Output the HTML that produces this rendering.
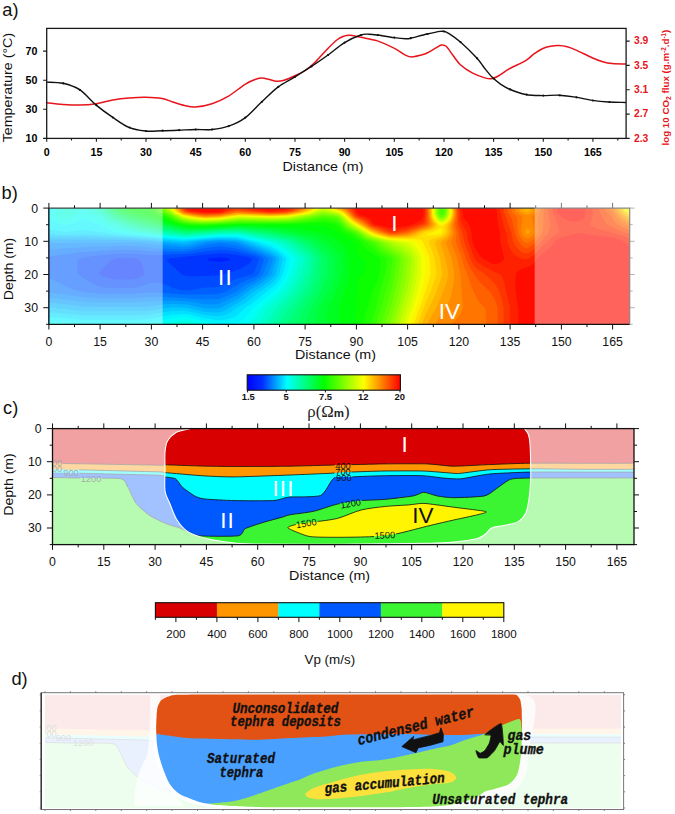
<!DOCTYPE html>
<html><head><meta charset="utf-8"><title>Figure</title>
<style>
html,body{margin:0;padding:0;background:#fff;}
body{width:675px;height:814px;overflow:hidden;font-family:"Liberation Sans",sans-serif;}
svg{display:block;font-family:"Liberation Sans",sans-serif;}
.tb{font-weight:bold;font-size:10.7px;}
.tr{font-size:12.3px;fill:#111;}
.lab{font-size:13.5px;fill:#111;}
.pl{fill:#111;}
.hw{font-family:"Liberation Mono",monospace;font-weight:bold;font-style:italic;fill:#111;}
</style></head><body>
<svg width="675" height="814" viewBox="0 0 675 814">
<rect width="675" height="814" fill="#fff"/>
<g id="pa">
<path d="M46.7 102.7C49.4 103 57.5 104 63 104.4C68.5 104.8 74.1 105.2 79.6 105.1C85.1 105 90.7 104.6 96.2 103.7C101.7 102.8 107.3 100.9 112.8 99.9C118.2 99 123.5 98.4 128.9 98C134.3 97.6 140 97.2 145.5 97.3C151 97.4 157.6 97.7 162.1 98.5C166.6 99.3 168.9 100.8 172.7 102C176.4 103.2 180.8 104.8 184.6 105.6C188.4 106.4 190.8 107.3 195.4 107C200 106.7 206.5 105.5 212 103.7C217.5 101.9 223.1 99.3 228.6 96.1C234.1 92.9 240.4 87.1 245 84.3C249.6 81.5 253.5 80 256.4 79C259.3 78 260.1 78 262.3 78.1C264.5 78.2 267 79 269.4 79.5C271.8 80 273.9 81.1 276.5 81.2C279.1 81.3 281.8 80.9 284.8 80C287.8 79.1 290.9 77.7 294.5 76C298.1 74.3 302.6 72.4 306.1 70C309.6 67.6 312 65.2 315.6 61.7C319.2 58.2 324.1 52.4 327.7 48.7C331.3 45 334.8 41.6 337.5 39.5C340.2 37.4 342.2 36.8 344.1 36.1C346 35.4 347.4 35.3 349 35.2C350.6 35.1 351.7 35.4 353.7 35.7C355.7 36.1 356.9 36.4 360.8 37.3C364.8 38.2 371.9 39.1 377.4 40.9C382.9 42.7 389.2 45.8 394 48.2C398.8 50.6 402.9 53.8 405.9 55.3C408.9 56.8 409.4 57 411.8 57C414.2 57 417.5 56 420.1 55.3C422.7 54.6 424.6 54.2 427.2 53C429.8 51.8 433.1 49.5 435.5 48.2C437.9 46.9 439.6 45.4 441.4 45.1C443.2 44.8 444.1 44.5 446.1 46.3C448.1 48.1 450.9 52.7 453.3 55.8C455.7 58.9 457.2 61.9 460.4 64.8C463.5 67.7 468.2 70.8 472.2 72.9C476.1 75 480.9 76.6 484.1 77.6C487.3 78.6 488.9 79.1 491.3 78.8C493.7 78.5 495.4 77.7 498.4 76C501.4 74.3 504.6 71.5 509.1 68.9C513.7 66.3 521.6 63.1 525.7 60.6C529.9 58.1 531.2 55.9 534 53.9C536.8 51.9 539.5 50 542.3 48.7C545.1 47.4 547.8 46.8 550.6 46.3C553.4 45.8 556.1 45.5 558.9 45.6C561.7 45.7 564.4 46.1 567.2 46.8C570 47.5 571.4 48.1 575.5 49.9C579.6 51.7 587.6 55.7 592.1 57.7C596.6 59.7 599.4 60.7 602.7 61.7C606.1 62.7 608.3 63.2 612.2 63.6C616.1 64 623.7 63.9 626 63.9" fill="none" stroke="#e8141c" stroke-width="1.5"/>
<path d="M46.7 82.1C49.4 82.3 57.5 82 63 83.3C68.5 84.6 74.1 86.1 79.6 89.7C85.1 93.3 90.7 100.5 96.2 105.1C101.7 109.7 107.3 113.7 112.8 117.4C118.2 121.1 123.5 125.1 128.9 127.4C134.3 129.7 140 130.4 145.5 131C151 131.6 156.6 130.8 162.1 130.7C167.6 130.6 173.1 130.4 178.7 130.2C184.2 130 189.8 129.6 195.4 129.5C201 129.4 206.5 130.1 212 129.5C217.5 128.9 223.1 128.1 228.6 126.2C234.1 124.3 239.6 121.9 245 117.9C250.4 113.9 255.8 107.4 261.3 102.3C266.8 97.2 272.4 91.3 277.9 87.1C283.4 82.9 289 80.5 294.5 77.1C300 73.7 305.6 70.3 311.1 66.7C316.6 63.1 322.2 59.3 327.7 55.3C333.2 51.3 338.7 46.2 344.2 42.8C349.7 39.4 356.6 36.4 360.8 35C365 33.6 366.3 34.2 369.1 34.2C371.9 34.2 373.2 34.4 377.4 35C381.5 35.6 389.2 37 394 37.6C398.8 38.2 403.1 38.6 405.9 38.7C408.7 38.8 407.1 39.1 410.6 38.3C414.2 37.5 422.3 35.1 427.2 34C432.1 32.9 437.4 31.8 440.2 31.4C443 31 442.4 31.1 443.8 31.4C445.2 31.7 445.7 31.5 448.5 33.3C451.3 35.1 455.7 37.9 460.4 42C465.1 46.1 472.8 53.7 476.8 58C480.8 62.3 481.6 64.4 484.2 67.7C486.8 71 489.7 74.8 492.5 77.6C495.3 80.4 498 82.4 500.8 84.3C503.6 86.2 505 87.3 509.1 89C513.2 90.7 520.2 93.4 525.7 94.5C531.2 95.6 536.8 95.5 542.3 95.6C547.8 95.7 553.4 95 558.9 95.2C564.4 95.5 570 96.2 575.5 97.1C581 98 586.6 99.6 592.1 100.4C597.6 101.2 603.1 101.7 608.7 102C614.4 102.3 623.1 102.4 626 102.5" fill="none" stroke="#111" stroke-width="1.4"/>
<circle cx="63.3" cy="83.4" r="1.1" fill="#111"/>
<circle cx="79.8" cy="89.9" r="1.1" fill="#111"/>
<circle cx="96.4" cy="105.2" r="1.1" fill="#111"/>
<circle cx="112.9" cy="117.5" r="1.1" fill="#111"/>
<circle cx="129.5" cy="127.5" r="1.1" fill="#111"/>
<circle cx="146.0" cy="131.0" r="1.1" fill="#111"/>
<circle cx="162.6" cy="130.7" r="1.1" fill="#111"/>
<circle cx="179.1" cy="130.2" r="1.1" fill="#111"/>
<circle cx="195.7" cy="129.5" r="1.1" fill="#111"/>
<circle cx="212.2" cy="129.5" r="1.1" fill="#111"/>
<circle cx="228.8" cy="126.1" r="1.1" fill="#111"/>
<circle cx="245.3" cy="117.6" r="1.1" fill="#111"/>
<circle cx="261.9" cy="101.8" r="1.1" fill="#111"/>
<circle cx="278.4" cy="86.8" r="1.1" fill="#111"/>
<circle cx="295.0" cy="76.8" r="1.1" fill="#111"/>
<circle cx="311.5" cy="66.4" r="1.1" fill="#111"/>
<circle cx="328.1" cy="55.0" r="1.1" fill="#111"/>
<circle cx="344.6" cy="42.6" r="1.1" fill="#111"/>
<circle cx="361.2" cy="35.0" r="1.1" fill="#111"/>
<circle cx="377.8" cy="35.1" r="1.1" fill="#111"/>
<circle cx="394.3" cy="37.6" r="1.1" fill="#111"/>
<circle cx="410.9" cy="38.2" r="1.1" fill="#111"/>
<circle cx="427.4" cy="34.0" r="1.1" fill="#111"/>
<circle cx="444.0" cy="31.5" r="1.1" fill="#111"/>
<circle cx="460.5" cy="42.1" r="1.1" fill="#111"/>
<circle cx="477.1" cy="58.3" r="1.1" fill="#111"/>
<circle cx="493.6" cy="78.5" r="1.1" fill="#111"/>
<circle cx="510.2" cy="89.4" r="1.1" fill="#111"/>
<circle cx="526.7" cy="94.6" r="1.1" fill="#111"/>
<circle cx="543.3" cy="95.6" r="1.1" fill="#111"/>
<circle cx="559.8" cy="95.3" r="1.1" fill="#111"/>
<circle cx="576.4" cy="97.3" r="1.1" fill="#111"/>
<circle cx="592.9" cy="100.5" r="1.1" fill="#111"/>
<circle cx="609.5" cy="102.0" r="1.1" fill="#111"/>
<rect x="46.7" y="28.4" width="579.4" height="110.0" fill="none" stroke="#1a1a1a" stroke-width="1.3"/>
<text x="37.4" y="141.9" text-anchor="end" class="tb">10</text>
<text x="37.4" y="112.8" text-anchor="end" class="tb">30</text>
<text x="37.4" y="83.7" text-anchor="end" class="tb">50</text>
<text x="37.4" y="54.6" text-anchor="end" class="tb">70</text>
<text x="634" y="141.7" class="tb" style="font-size:10.3px" fill="#e8141c">2.3</text>
<text x="634" y="117.4" class="tb" style="font-size:10.3px" fill="#e8141c">2.7</text>
<text x="634" y="93.1" class="tb" style="font-size:10.3px" fill="#e8141c">3.1</text>
<text x="634" y="68.7" class="tb" style="font-size:10.3px" fill="#e8141c">3.5</text>
<text x="634" y="44.4" class="tb" style="font-size:10.3px" fill="#e8141c">3.9</text>
<text x="46.7" y="155.8" text-anchor="middle" class="tb">0</text>
<text x="96.4" y="155.8" text-anchor="middle" class="tb">15</text>
<text x="146.0" y="155.8" text-anchor="middle" class="tb">30</text>
<text x="195.7" y="155.8" text-anchor="middle" class="tb">45</text>
<text x="245.3" y="155.8" text-anchor="middle" class="tb">60</text>
<text x="295.0" y="155.8" text-anchor="middle" class="tb">75</text>
<text x="344.6" y="155.8" text-anchor="middle" class="tb">90</text>
<text x="394.3" y="155.8" text-anchor="middle" class="tb">105</text>
<text x="444.0" y="155.8" text-anchor="middle" class="tb">120</text>
<text x="493.6" y="155.8" text-anchor="middle" class="tb">135</text>
<text x="543.3" y="155.8" text-anchor="middle" class="tb">150</text>
<text x="592.9" y="155.8" text-anchor="middle" class="tb">165</text>
<path d="M46.7 138.4h-3.6M46.7 109.3h-3.6M46.7 80.2h-3.6M46.7 51.1h-3.6M626.1 138.4h3.6M626.1 114.1h3.6M626.1 89.8h3.6M626.1 65.4h3.6M626.1 41.1h3.6M46.7 138.4v3.4M71.5 138.4v2.2M96.4 138.4v3.4M121.2 138.4v2.2M146.0 138.4v3.4M170.8 138.4v2.2M195.7 138.4v3.4M220.5 138.4v2.2M245.3 138.4v3.4M270.2 138.4v2.2M295.0 138.4v3.4M319.8 138.4v2.2M344.6 138.4v3.4M369.5 138.4v2.2M394.3 138.4v3.4M419.1 138.4v2.2M444.0 138.4v3.4M468.8 138.4v2.2M493.6 138.4v3.4M518.4 138.4v2.2M543.3 138.4v3.4M568.1 138.4v2.2M592.9 138.4v3.4M617.8 138.4v2.2" stroke="#1a1a1a" stroke-width="1.1" fill="none"/>
<text x="322.9" y="171.4" text-anchor="middle" class="lab" font-size="12.5" textLength="81" lengthAdjust="spacingAndGlyphs">Distance (m)</text>
<text transform="translate(12.3,87.6) rotate(-90)" text-anchor="middle" class="lab" textLength="109.5" lengthAdjust="spacingAndGlyphs">Temperature (°C)</text>
<text transform="translate(669.3,87.6) rotate(-90)" text-anchor="middle" class="tb" fill="#e8141c" style="font-size:9.75px">log 10 CO<tspan style="font-size:6.8px" dy="2">2</tspan><tspan dy="-2"> flux (g.m</tspan><tspan style="font-size:6.3px" dy="-3">-2</tspan><tspan dy="3">.d</tspan><tspan style="font-size:6.3px" dy="-3">-1</tspan><tspan dy="3">)</tspan></text>
<text x="2.3" y="15.8" class="pl" font-size="18.3">a)</text>
</g>
<g id="pb">
<g fill-rule="evenodd" shape-rendering="geometricPrecision">
<rect x="48.9" y="208.1" width="580.8" height="116.2" fill="rgb(0,11,255)"/>
<path fill="rgb(0,32,255)" d="M48.9 208.1L629.7 208.1L629.7 324.3L48.9 324.3Z"/>
<path fill="rgb(0,53,255)" d="M48.9 208.1L629.7 208.1L629.7 324.3L48.9 324.3ZM207.5 260.2L215.1 261.6L221.1 261.7L229 260.2L230.2 258.2L219.1 257.5L208.4 258.2Z"/>
<path fill="rgb(0,74,255)" d="M48.9 208.1L629.7 208.1L629.7 324.3L48.9 324.3ZM166.4 260.2L181.5 274.2L185.1 275.7L189.1 276.3L215.1 275.8L221.1 275.1L235.2 270.8L241.6 268.2L249.2 263.6L252 260.2L251.3 258.2L243.8 256.2L233.2 254.3L219.1 253.3L169.8 258.2ZM99.4 274.2L103 276.5L113 278.9L119 279.6L131 279.6L137 278.4L141.7 276.2L144.2 274.2L144.5 272.2L142.1 264.2L140 260.2L134.4 258.2L119 258.1L115 258.7L110.7 260.2L101 270.2L99.6 272.2Z"/>
<path fill="rgb(0,96,255)" d="M48.9 208.1L629.7 208.1L629.7 324.3L48.9 324.3ZM258.7 260.2L258.4 258.2L253.2 255.7L235.2 251.3L221.1 249.8L207.1 250.9L189.1 253.7L153 255.3L133 253.7L115 253.8L91.2 256.2L80.1 258.2L77.5 260.2L77.4 272.2L78.1 274.2L89 281.7L95 285.1L101 287.2L115 288.2L133 288.1L139 286.9L151 282.7L155 282.6L165.1 284.6L174.1 288.2L180.6 290.2L187.1 290.6L191.2 290.2L203.1 287.7L215.1 287.3L219.1 286.7L235.2 279.3L252.4 274.2L254.2 272.2Z"/>
<path fill="rgb(0,117,255)" d="M48.9 208.1L629.7 208.1L629.7 324.3L48.9 324.3L48.9 278.5L52.9 280L70.1 288.2L75.5 290.2L85.4 292.2L97 293.6L133 294L151 292.3L185.1 294.6L217.1 294.3L224.4 292.2L228.6 290.2L241.7 282.2L256.3 276.2L258.7 274.2L259.7 272.2L263.7 260.2L263.5 258.2L260.5 256.2L255.2 254L235.2 248.2L221.1 246.2L205.1 248L185.1 251.7L155 251.6L133 249.8L117 249.8L78.9 252.6L48.9 256.5Z"/>
<path fill="rgb(0,138,255)" d="M48.9 208.1L629.7 208.1L629.7 324.3L48.9 324.3L48.9 292.3L82.9 297L99 298.2L133 298.3L151 297.1L165.1 296.9L203.1 299.3L217.1 299.2L221.1 298.3L235.2 292.3L245.2 285L255.2 280.3L261.2 276.3L263.2 274.2L268.5 260.2L268.4 258.2L265.6 256.2L255.2 251.8L235.2 245L221.1 243.1L207.1 244.4L191.1 248.4L183.1 249.4L159.1 248.4L135 246.1L123 245.9L84.9 247.1L48.9 249.5Z"/>
<path fill="rgb(0,159,255)" d="M48.9 208.1L629.7 208.1L629.7 324.3L48.9 324.3L48.9 297.4L80.9 301.6L95 302.5L135 302.6L171.1 300.5L187.1 301.3L205.1 304.2L215.1 304.3L219.1 303.8L237.2 295.3L247.2 287.9L257.6 282.2L265.2 276.8L267.7 274.2L268.7 272.2L272.6 260.2L272.5 258.2L271.2 256.9L266.4 254.2L239.2 243.5L235.2 242.3L219.1 241.3L206 242.2L189.1 246.4L183.1 247L133 242.5L48.9 243Z"/>
<path fill="rgb(0,181,255)" d="M48.9 208.1L629.7 208.1L629.7 324.3L48.9 324.3L48.9 302.3L84.9 306.8L147 306.8L165.1 304.3L173.1 303.9L187.1 304.6L205.1 308.5L219.1 308.4L223.1 306.8L239.2 298.2L249.5 290.2L261.2 283.5L267.2 279.1L271.8 274.2L276 260.2L276 258.2L274.2 256.2L267.2 252.2L241.7 242.2L233.2 240.5L219.1 240L207.1 240.8L197.1 242L187.1 244.4L183.1 244.7L153 241.6L133 240.3L87 239.5L48.9 239.4Z"/>
<path fill="rgb(0,202,255)" d="M48.9 208.1L629.7 208.1L629.7 324.3L48.9 324.3L48.9 307.3L80.9 311L91 311.3L147 311L153 310.5L167.1 307.7L181.1 307.3L187.1 307.9L205.1 311.9L217.1 312.5L221.1 311.9L225.1 310.3L242.5 300.3L253.2 291.8L263.2 285.8L269.2 281.6L273.2 277.6L275.6 274.2L279.3 260.2L279.3 258.2L277.8 256.2L269.2 250.8L247.2 242.2L240.3 240.2L235.2 239.4L215.1 239.2L201.1 240.2L183.1 242.6L133 238.7L84.9 237L64.9 237.3L48.9 236.9Z"/>
<path fill="rgb(0,223,255)" d="M48.9 208.1L629.7 208.1L629.7 324.3L48.9 324.3L48.9 312.2L84.9 315.6L131 315.6L149 314.8L169.1 311.2L183.1 310.6L187.1 311L205.1 315.1L217.1 316.2L223.1 315.6L230.8 312.3L236.2 308.3L246.3 302.3L258.9 292.2L271.2 284.1L275.2 280L279.2 274.2L282.6 260.2L282.6 258.2L281.2 256.2L277.2 253L271.2 249.5L252.6 242.2L237.2 238.4L217.1 238.1L183.1 241.1L137 237.5L87 234.5L64.9 235L48.9 234.3Z"/>
<path fill="rgb(0,244,255)" d="M48.9 208.1L629.7 208.1L629.7 324.3L48.9 324.3L48.9 317.1L64.9 317.9L84.9 319.9L133 319.9L151 318.5L169.1 315L183.1 313.9L189.1 314.6L203.1 318L217.1 319.9L223.1 319.9L229.1 318.8L233.2 317.4L237.2 315.2L244.8 308.3L253.2 302.5L275.2 285L279.2 280.2L282.8 274.2L286.1 260.2L286.1 258.2L282.6 254.2L277.2 250.3L271.2 247.1L258.3 242.2L237.2 237.2L219.1 237.1L183.1 239.8L111.9 234.1L84.9 229.9L80.9 229.9L68.9 231.8L64.9 232L48.9 229.5Z"/>
<path fill="rgb(0,255,244)" d="M48.9 208.1L629.7 208.1L629.7 324.3L235.5 324.3L237.2 323.7L243.2 319.2L253.4 308.3L275.2 290L280.6 284.2L284.5 278.2L287.1 272.2L290.1 260.2L290.1 258.2L286.4 254.2L279.2 248.7L273.2 245.6L264.2 242.2L237.2 236.1L219.1 236.2L183.1 238.8L127 233.6L116.3 232.1L109.8 230.1L99 224.8L84.9 219.1L82.9 219.1L72.9 223.5L66.9 224.6L62.9 224.4L55 222.1L48.9 218.2ZM137.9 324.3L151 322.4L171.1 318.4L183.1 317.1L189.1 317.8L218.3 324.3ZM48.9 322L64.9 322.3L79.6 324.3L48.9 324.3Z"/>
<path fill="rgb(0,255,223)" d="M56 208.1L629.7 208.1L629.7 324.3L249.1 324.3L255.2 316.8L260.9 308.3L274.6 296.3L282.4 288.2L286.5 282.2L290.8 274.2L294.9 260.2L294.9 258.2L290.8 254.2L281.2 247L275.7 244.2L267.2 241.3L237.2 235L219.1 235.3L185.1 237.8L145.8 234.1L130.2 232.1L122 230.1L114 226.1L107 223.4L103 221L97 216.1L91 213.9L82.9 210L80.9 210.3L74.3 216.1L70.9 218.3L66.9 219.5L62.9 219L60.7 218.1L58 216.1L56.2 212.1ZM162.7 324.3L173.1 321.8L185.1 320.4L191.1 321.4L200.6 324.3Z"/>
<path fill="rgb(0,255,202)" d="M64.7 212.1L64 208.1L70.2 208.1L68.1 212.1L66.9 212.7ZM91 208.1L629.7 208.1L629.7 324.3L258.1 324.3L268 308.3L279.2 297.9L286.3 290.2L291.5 282.2L295.8 274.2L299.9 260.2L299.9 258.2L298.3 256.2L287.2 247.7L281.6 244.2L276.7 242.2L265.2 239.3L239.2 234.1L221.1 234.2L185.1 236.8L151 233.3L135 230.9L127 228.7L117.2 224.1L109 221.2L101 214.8L93.1 210.1ZM181.1 324.3L185.1 323.9L187.9 324.3Z"/>
<path fill="rgb(0,255,181)" d="M97.6 208.1L629.7 208.1L629.7 324.3L265.3 324.3L275.1 308.3L285.3 298.3L292.1 290.2L298 280.2L301.5 272.2L304.8 260.2L304.8 258.2L301.2 254.5L289.2 245.5L283.3 242.2L276.1 240.2L239.2 233.1L221.1 233.3L185.1 235.9L153.2 232.1L141.2 230.1L131 227.5L112 220.1L107 216.8Z"/>
<path fill="rgb(0,255,159)" d="M101.8 208.1L629.7 208.1L629.7 324.3L272.4 324.3L282.2 308.3L291.7 298.3L298 290.2L303.3 280.2L306.5 272.2L308.8 262.2L309.1 258.2L305.3 253.8L292.6 244.2L289.4 242.2L283.2 240.1L239.2 232L223.1 232.3L185.1 234.9L149 229.8L135 226.6L115 219.4L111 217.2L107.1 214.1Z"/>
<path fill="rgb(0,255,138)" d="M104.9 208.1L629.7 208.1L629.7 324.3L279.5 324.3L289.3 308.3L298.1 298.3L303.9 290.2L308.7 280.2L311.3 273.1L313 262.2L313.1 258.2L312 256.2L308.1 252.2L297.2 243.8L291.2 240.7L285.2 238.9L265.2 235.1L241.2 231.3L229.1 231.1L185.1 233.9L155 229.2L137 225.1L117 218.3L110.2 214.1L107 211.1Z"/>
<path fill="rgb(0,255,117)" d="M107.7 208.1L629.7 208.1L629.7 324.3L286.8 324.3L296.4 308.3L308.6 292.2L312.4 284.2L316.1 274.2L317.2 258.2L315.3 255L311.3 250.7L299.9 242.2L293.2 239.4L283.2 237L263.2 233.4L239.2 230.2L223.1 230.6L189.1 232.8L179.1 232.1L151 226.7L129 220.8L119 217.3L115 215.2L110.8 212.1Z"/>
<path fill="rgb(0,255,96)" d="M110.5 208.1L629.7 208.1L629.7 324.3L295.1 324.3L303.6 308.3L314.6 292.2L318 284.2L321.3 274.2L321.6 258.2L320.6 256.2L315.7 250.2L307.3 243.3L299.2 239.4L289.2 236.6L267.2 232.6L243.2 229.6L231.2 229.3L189.1 231.8L181.1 231.2L156.3 226.1L131 219.7L117 214.2L113 211.2Z"/>
<path fill="rgb(0,255,74)" d="M113.3 208.1L629.7 208.1L629.7 324.3L304.1 324.3L307.9 316.3L310.8 308.3L321.7 290.2L327.8 274.2L327.6 258.2L319.1 248.2L312 242.2L302.1 238.2L291.2 235.3L269.2 231.3L247.2 228.9L235.2 228.3L199.1 230.4L187.1 230.6L182.4 230.1L159.1 225L131.5 218.1L119 213L115 210.2Z"/>
<path fill="rgb(0,255,53)" d="M116.6 208.1L629.7 208.1L629.7 324.3L315.2 324.3L318.1 308.3L327.6 292.2L334.3 276.2L335 272.2L334.7 258.2L333.7 256.2L328.2 250.2L317.3 241.1L310.5 238.2L297.2 234.7L277.2 230.7L263.2 229.1L237.2 227.4L201.1 229.4L189.1 229.5L183.1 229L133 216.7L122.3 212.1L118.7 210.1Z"/>
<path fill="rgb(0,255,32)" d="M121.3 208.1L629.7 208.1L629.7 324.3L327 324.3L327.3 308.3L332.7 298.3L341.5 276.2L342.1 272.2L342.1 260.2L341.2 256.2L337 250.2L330.9 244.2L324.8 240.2L319.3 237.5L313.3 235.6L289.2 230.6L273.2 228.4L239.2 226.6L201.1 228.4L189.1 228.4L183.1 227.8L173.1 225.4L151 218.7L135 215L128.2 212.1Z"/>
<path fill="rgb(0,255,11)" d="M128.1 208.1L629.7 208.1L629.7 324.3L339.2 324.3L339.3 308.3L347.1 284.2L349 276.2L349.2 258.2L347.3 251.9L344 246.2L340 242.2L333.8 238.2L327.3 235L319.3 232.4L297.2 228.7L285.2 227.4L239.2 225.7L203.1 227.4L185.1 226.9L175.1 224.7L147 215L135.5 212.1L131.1 210.1Z"/>
<path fill="rgb(11,255,0)" d="M146.2 208.1L629.7 208.1L629.7 324.3L355.3 324.3L356 306.3L357.5 286.2L359.3 277.7L361.3 274.4L363.3 272.5L364.6 272.2L365.1 270.2L365.2 262.2L363.5 260.2L361.3 259.4L358.7 256.2L357.3 253.3L355.3 244.2L354.2 242.2L343.3 236.6L335.3 231.2L325.3 226.6L319.3 225.7L239.2 224.8L203.1 226.5L185.1 225.8L175.1 223.4L156.4 216.1L149.8 212.1L147 208.5Z"/>
<path fill="rgb(32,255,0)" d="M152.5 208.1L629.7 208.1L629.7 324.3L363.6 324.3L365.3 315.8L372.3 292.2L377.4 280.1L379.3 274.2L380.3 260.2L379.8 258.2L377.4 256.2L367.3 250.2L365.3 248.5L360.9 242.2L353.3 237.1L343.3 232L341 230.1L337.3 225.9L333.3 224.1L321.3 222.6L287.2 224.2L239.2 224L203.1 225.7L187.1 225L175.1 222.2L167.1 218.2L157 214.2L154.3 212.1Z"/>
<path fill="rgb(53,255,0)" d="M154.9 208.1L629.7 208.1L629.7 324.3L370.6 324.3L375.9 308.3L379.9 290.2L385.2 274.2L387.1 260.2L386.5 258.2L377.6 252.2L366 242.2L359.3 238.5L353.5 234.1L344.5 230.1L339.3 224.3L337.3 222.9L333.3 221.6L323.3 220.3L303.3 222.5L289.2 223.3L239.2 223.2L203.1 224.9L189.1 224.3L181.1 223L175.1 221L167.1 216.6L159.1 213.3L157 211.8Z"/>
<path fill="rgb(74,255,0)" d="M156.9 208.1L629.7 208.1L629.7 324.3L376.1 324.3L390.1 276.2L392.4 260.2L392 258.2L389.6 256.2L381.4 251.2L373.8 244.2L370.9 242.2L363.3 239.1L356.7 234.1L347.8 230.1L345.3 228.5L341.3 224L337.3 220.7L333.3 219.4L323.3 218.1L307.3 220.8L289.2 222.4L239.2 222.4L205.1 224.2L191.1 223.6L183.1 222.6L175.8 220.1L168.8 216.1L160.2 212.1L158 210.1ZM441.4 209.7L441 212.1L441.4 213.1L442.6 212.1Z"/>
<path fill="rgb(96,255,0)" d="M158.8 208.1L439.9 208.1L439.2 212.1L440 214.1L441.4 215.5L443.4 214.8L444.4 212.1L443.7 208.1L629.7 208.1L629.7 324.3L380.7 324.3L386.8 306.3L394.1 278.2L396.4 262.2L396.3 258.2L393.4 255.5L383.4 249.3L375 242.2L365.3 238.7L355.8 232.1L347.3 228.2L337.3 218.7L333.3 217.5L323.3 216.3L305.3 219.8L289.2 221.6L271.2 222L239.2 221.6L217.1 223.2L197.1 223.4L187.1 222.5L179.1 220.5L163 212.1L160.2 210.1Z"/>
<path fill="rgb(117,255,0)" d="M160.7 208.1L438.7 208.1L438.3 212.1L439.4 215.6L441.4 216.9L443.4 216.5L445.1 214.1L445.6 212.1L444.9 208.1L629.7 208.1L629.7 324.3L385.2 324.3L391.3 306.3L398.1 278.2L400.3 262.2L400.3 258.2L397.4 255.2L386.2 248.2L378.5 242.2L365.3 237.4L357.9 232.1L349.3 228.1L345.3 224.8L339.3 218.3L337.3 217.1L333.7 216.1L323.3 215L301.2 219.4L289.2 220.8L271.2 221.3L239.2 220.8L219.1 222.5L199.1 222.9L187.1 221.8L180.6 220.1L165.5 212.1L162.4 210.1Z"/>
<path fill="rgb(138,255,0)" d="M162.5 208.1L437.7 208.1L437.4 212.1L437.8 214.1L439.4 217L441.4 218L443.4 217.6L445.4 215.6L446.4 212.1L445.9 208.1L629.7 208.1L629.7 324.3L389.4 324.3L395.1 306.3L402 278.2L403.6 268.2L404.3 258.2L402.8 256.2L399.4 253.4L381.8 242.2L367.3 237.3L359.3 231.9L349.3 226.7L345.3 223.2L340.8 218.1L338 216.1L323.3 213.8L299.2 218.7L287.2 220.2L271.2 220.6L239.2 220L219.1 222L201.1 222.4L187.1 221L181.1 219.4L170.7 214.1L164.5 210.1Z"/>
<path fill="rgb(159,255,0)" d="M164.3 208.1L436.9 208.1L436.6 212.1L437.4 215.6L439.4 218.2L441.4 218.9L443.4 218.6L446.1 216.1L447.3 212.1L446.7 208.1L629.7 208.1L629.7 324.3L393 324.3L398.1 308.3L403.7 288.2L406.7 274.2L408 258.2L404.9 254.2L397.4 248.9L385.1 242.2L367.3 236.2L359.3 231L351.3 226.8L347.3 223.8L339.3 215.7L335.3 214.5L323.3 212.7L303.3 217.1L287.2 219.4L271.2 220L239.2 219.3L219.1 221.4L201.1 221.8L189.1 220.6L181.1 218.5L172.2 214.1Z"/>
<path fill="rgb(181,255,0)" d="M166 208.1L436.1 208.1L435.9 212.1L436.8 216.1L439.4 219.2L441.4 219.9L443.4 219.6L445.4 218.3L447 216.1L448 212.1L447.5 208.1L629.7 208.1L629.7 324.3L396.4 324.3L406.5 292.2L409.7 278.2L411.6 260.2L411.4 258.2L410.5 256.2L405.4 250.6L398.3 246.2L388.8 242.2L373.3 237.7L367.3 235.2L351.3 225.6L346.9 222.1L341.4 216.1L339.3 214.9L335.3 213.7L323.3 211.5L309.3 215.2L287.2 218.7L271.2 219.3L239.2 218.5L219.1 220.8L201.1 221.2L189.1 219.9L181.1 217.7L173.6 214.1Z"/>
<path fill="rgb(202,255,0)" d="M167.6 208.1L435.4 208.1L435.1 212.1L436 216.1L437.4 218.5L439.4 220.1L441.4 220.8L443.4 220.5L445.4 219.3L447.9 216.1L448.8 212.1L448.2 208.1L629.7 208.1L629.7 324.3L399.6 324.3L405.9 306.3L410.7 290.2L414 274.2L414.9 260.2L414 256.2L411.3 252.2L407.4 248.1L401.4 244.4L371.2 236.1L351.3 224.5L347.3 221.3L342.6 216.1L339.5 214.1L325.3 210.6L321.3 210.5L309.3 214.5L287.2 218L271.2 218.6L239.2 217.8L221.1 220.1L203.1 220.7L191.1 219.5L183.1 217.7L174.9 214.1L171.9 212.1Z"/>
<path fill="rgb(223,255,0)" d="M169.1 208.1L434.7 208.1L434.4 212.1L435.4 216.7L437.4 219.6L439.4 221.1L441.4 221.7L443.4 221.4L445.4 220.4L447.6 218.1L449.3 214.1L449 208.1L629.7 208.1L629.7 324.3L402.9 324.3L408.8 308.3L413.8 292.2L417.7 272.2L418.2 260.2L417.4 256.2L412.1 248.2L407.4 244L402.5 242.2L385.4 239.5L371.3 235.4L351.3 223.5L341.1 214.1L337.3 212.5L323.3 208.7L321.3 208.9L314.8 212.1L309.3 213.8L289.2 217.2L271.2 218L239.2 217.1L221.1 219.6L205.1 220.2L193.1 219.2L183.1 217.1L175.1 213.4Z"/>
<path fill="rgb(244,255,0)" d="M170.4 208.1L319.3 208.1L313.3 211.7L309.3 213.1L301.2 214.8L287.2 216.8L271.2 217.4L239.2 216.4L221.1 219L205.1 219.7L193.1 218.6L183.1 216.4L175.1 212.7ZM326.1 208.1L433.9 208.1L434 214.1L435.3 218.1L437.4 220.8L441.4 222.7L443.4 222.4L445.4 221.4L448.5 218.1L450.1 214.1L449.7 208.1L627.8 208.1L629.7 209.8L629.7 324.3L406.2 324.3L412.4 308.3L417.4 292.2L421.2 274.2L421.4 258.2L420 254.2L416.6 248.2L413.3 244.2L410.2 242.2L387.4 239.2L377.4 236.7L371.3 234.5L351.3 222.5L341.3 213.4Z"/>
<path fill="rgb(255,244,0)" d="M171.7 208.1L316.9 208.1L314.3 210.1L309.3 212.4L301.2 214.2L289.2 216L271.2 216.9L239.2 215.8L221.1 218.5L205.1 219.1L193.1 217.9L183.1 215.8L175.4 212.1ZM329 208.1L433.2 208.1L433.2 214.1L434.5 218.1L437.4 221.9L439.4 223.3L441.4 223.8L443.4 223.5L445.4 222.5L449.4 218.1L451 212.1L450.4 208.1L625.4 208.1L626.9 210.1L629.7 212L629.7 324.3L409.8 324.3L415.9 308.3L421 292.2L425.2 274.2L425.1 258.2L422.1 250.2L418.5 244.2L416.5 242.2L411.4 240.6L389.4 238.9L373.3 234.6L353.3 222.9L349.3 219.8L343.7 214.1L341.3 212.6Z"/>
<path fill="rgb(255,223,0)" d="M172.9 208.1L314.8 208.1L312.2 210.1L307.7 212.1L298.8 214.1L289.2 215.5L271.2 216.3L239.2 215.3L219.1 218.1L205.1 218.6L193.1 217.3L183.1 215.2L176.5 212.1ZM331.5 208.1L432.5 208.1L432.5 214.1L433.6 218.1L437.4 223.2L439.4 225.1L441.4 226L443.4 225.3L447.4 222L450.3 218.1L451.7 212.1L451.1 208.1L623.3 208.1L625.7 211.2L629.7 213.7L629.7 324.3L413.7 324.3L425.1 292.2L430.5 274.2L429.7 258.2L426.7 250.2L422.8 242.2L421.4 240.3L419.4 239.5L391.4 238.5L385.4 237.4L375.3 234.5L369.3 231.7L353.3 222L344.8 214.1L341.9 212.1ZM442.3 230.1L441.4 228.2L439.4 228.8L435.4 231.3L426.6 234.1L427.4 235.4L439.4 234.4L441.4 233.3L442.4 232.1Z"/>
<path fill="rgb(255,202,0)" d="M174.1 208.1L312.8 208.1L310 210.1L305.3 212.1L295.8 214.1L287.2 215.2L271.2 215.8L239.2 214.7L219.1 217.6L205.1 218L195.1 217.1L183.1 214.7L177.7 212.1ZM334 208.1L431.8 208.1L431.8 214.1L432.7 218.1L433.7 220.1L436.8 224.1L437.4 226.1L436 228.1L433.4 229.7L425 232.1L418.4 236.1L415.4 237.2L405.4 238L389.4 237.5L377.4 234.5L371.3 231.9L353.3 221.1L343.3 212.1ZM428.9 242.2L430 240.2L431.4 239.4L441.4 236.2L444.4 234.1L445.5 232.1L445.4 226.1L450.2 220.1L451.9 216.1L452.5 212.1L451.9 208.1L621.3 208.1L624.3 212.1L629.7 215.3L629.7 324.3L417.6 324.3L425.4 303.3L431.2 290.2L436.4 274.2L434.8 258.2Z"/>
<path fill="rgb(255,181,0)" d="M175.3 208.1L310.8 208.1L307.9 210.1L302.8 212.1L287.2 214.8L271.2 215.4L239.2 214.2L219.1 217L205.1 217.5L197.1 216.8L183.1 214.2L178.8 212.1ZM336.5 208.1L431.1 208.1L431.4 216.1L432.7 220.1L435.1 224.1L435.1 226.1L431.4 228.9L421.2 232.1L415.4 235.3L411.4 236.4L395.4 237.3L387.4 236.5L378.7 234.1L371.3 231.1L353.3 220.2L344.7 212.1ZM452.6 208.1L619.3 208.1L621.7 211.8L623.7 213.7L629.7 217.1L629.7 324.3L421.7 324.3L425.4 315L435.5 294.2L440.6 280.2L442.3 274.2L440 258.2L435.2 244.2L435 242.2L437.3 240.2L443.4 237.5L447 234.1L447.7 232.1L447.4 226.1L451.2 220.1L452.7 216.1L453.2 212.1Z"/>
<path fill="rgb(255,159,0)" d="M176.5 208.1L308.7 208.1L305.6 210.1L300.1 212.1L287.2 214.3L271.2 215L237.2 213.6L219.1 216.5L205.1 216.9L199.1 216.5L184.6 214.1L180 212.1ZM338.8 208.1L430.3 208.1L430.6 216.1L431.7 220.1L433.5 224.1L433 226.1L430 228.1L419.4 231.6L411.4 235.1L403.4 236.3L389.4 236.3L381.1 234.1L371.3 230.2L354.6 220.1L345.3 211.5ZM453.3 208.1L521.9 208.1L523.6 210.6L525.6 211.8L527.6 211.9L529.6 211L531.5 208.1L617.2 208.1L619.7 212.1L625.7 217.2L629.7 219.2L629.7 324.3L427 324.3L434.8 310.3L440.5 298.3L444.6 288.2L447.6 278.2L448.2 274.2L446 260.2L440.8 244.2L440.9 242.2L447.4 236.9L449.4 234.1L449.8 232.1L449.3 226.1L452.3 220.1L453.9 214.1Z"/>
<path fill="rgb(255,138,0)" d="M177.7 208.1L306.6 208.1L303.2 210.1L297.4 212.1L285.2 214L269.2 214.5L237.2 213L219.1 215.9L205.1 216.4L185.1 213.7L181.2 212.1ZM341.1 208.1L429.6 208.1L429.8 216.1L431.9 224.1L430.8 226.1L427.4 228L419.4 230.4L409.4 234.5L397.4 235.8L389.4 235.6L377.8 232.1L369.3 228.2L353.3 218.3L347.3 212ZM454.1 208.1L518.1 208.1L520.3 212.1L523.6 214L527.6 214.9L529.6 214.4L532.8 212.1L534.7 208.1L615.1 208.1L617.4 212.1L621.7 216.5L625.7 219.7L629.7 221.5L629.7 324.3L435.3 324.3L441.4 313.4L446.5 306.3L448.7 302.3L450.9 296.3L453 286.2L454.2 276.2L454 272.2L451.5 258.2L446.2 244.2L446.1 242.2L450.8 236.1L451.7 234.1L451.9 232.1L451.1 226.1L454.4 216.1L454.8 212.1ZM527.6 228.1L525.6 229.7L525 232.1L525.6 233.3L527.6 234.4L529.6 233.3L530.2 232.1L529.6 229.7Z"/>
<path fill="rgb(255,117,0)" d="M178.8 208.1L304.2 208.1L300.6 210.1L294.7 212.1L285.2 213.5L269.2 214L237.2 212.4L219.1 215.3L205.1 215.8L191.1 214.3L185.1 213.1L182.4 212.1ZM343.4 208.1L428.8 208.1L428.8 214.1L430.3 224.1L428.6 226.1L407.4 233.8L395.4 235.1L389.4 234.9L380.4 232.1L369.3 227.3L361.8 222.1L354.4 218.1L347.3 210.8ZM454.9 208.1L514.5 208.1L515.9 212.1L521.4 216.1L522.7 218.1L521.1 230.1L521.7 234.1L523.6 236.7L525.6 238.1L527.6 238.6L529.6 238L531.6 236.6L533.8 234.1L534.5 232.1L531.9 218.1L532.7 216.1L536.5 212.1L537.8 208.1L612.5 208.1L614.9 212.1L621.7 219.7L625.7 222.5L629.7 223.9L629.7 324.3L451 324.3L455.5 320.2L459.5 315.1L462.1 310.3L462.9 306.3L460.5 274.2L457.1 258.2L451 242.2L454 234.1L452.9 226.1L455.5 214.1Z"/>
<path fill="rgb(255,96,0)" d="M180 208.1L301.6 208.1L297.8 210.1L291.9 212.1L285.2 213L269.2 213.5L237.2 211.5L221.1 214.6L205.1 215.2L193.8 214.1L185.1 212.6L181.4 210.1ZM345.5 208.1L428 208.1L428.6 224.1L425.4 226.5L415.4 229.5L407.4 232.6L397.4 234.2L389.4 234.2L373.3 228.5L369.3 226.4L363.3 221.9L355.3 217.8L353.2 216.1L349.3 211.3ZM455.7 208.1L510.9 208.1L511.6 212.1L515.8 216.1L517 218.1L517.9 232.1L519.3 236.1L523.6 241.4L525.6 242.6L527.6 242.9L531.6 240.9L535.6 237L537.6 234.1L538.5 230.1L537.7 218.1L538.1 216.1L540.1 212.1L540.9 208.1L608.9 208.1L619.7 221.8L623.7 224.6L629.7 226.9L629.7 324.3L485.9 324.3L485.8 310.3L485.4 308.3L479.5 302.4L477.5 299.7L471.5 286.9L467.4 274.2L464 266.2L461.1 256.2L455.9 242.2L456.5 234.1L454.8 224.1L456.4 214.1Z"/>
<path fill="rgb(255,74,0)" d="M181.3 208.1L298.8 208.1L295.1 210.1L291.2 211.4L285.2 212.5L269.2 213L237.2 210.5L220.1 214.1L207.1 214.6L199.1 214.2L185.5 212.1L183.1 210.5ZM347.7 208.1L427.2 208.1L427.3 222.1L426.7 224.1L423.4 226.1L405.4 231.8L395.4 233.4L389.4 233.2L370.6 226.1L363.3 220.6L355.3 216.7ZM456.6 208.1L507.3 208.1L507.6 212.1L511.6 218.1L515.1 234.1L517.5 240.2L522.4 246.2L525.6 248L527.6 248.1L531.6 245.9L535.6 242L540.3 236.1L542.4 232.1L543.6 224.1L543.5 216.1L544.2 208.1L603.9 208.1L605.7 211L611.1 216.1L614.7 222.1L616.5 224.1L623.2 228.1L629.7 230.4L629.7 324.3L497.7 324.3L497.6 308.3L495.9 302.3L493.5 296.8L489.5 291.1L481.9 284.2L478.5 280.2L470.1 268.2L466.6 260.2L460.3 242.2L458.9 232.1L456.8 226.1L457.4 212.1Z"/>
<path fill="rgb(255,53,0)" d="M182.6 208.1L295.9 208.1L291.2 210.4L282.5 212.1L271.2 212.5L261.7 212.1L237.2 209.1L221.1 213.2L207.1 213.9L188 212.1L184.1 210.1ZM349.9 208.1L426.2 208.1L426.2 216.1L425.6 222.1L424.4 224.1L405.4 230.2L395.4 232.4L389.4 232.2L383.4 229.5L372.5 226.1L369.5 224.1L365.3 220.2L357.3 216.9L355.3 215.4ZM457.5 208.1L503.7 208.1L503.9 212.1L506.7 218.1L508.2 224.1L511.2 232.1L513.5 242.2L515.8 246.2L519.3 250.2L522 252.2L525.6 253.5L529.6 252.6L533.6 249.6L539.6 243.4L548.7 232.1L549.8 228.1L550.1 224.1L548.2 212.1L548.1 208.1L598.6 208.1L599.7 212.1L604.8 222.1L606.4 224.1L619.7 230.8L629.7 234.2L629.7 324.3L503.7 324.3L503.6 308.3L501.8 300.3L498.6 290.2L496.6 286.2L493.5 282.2L485.1 274.2L476.4 268.2L473.5 264.9L471.5 261.5L464.4 242.2L462.2 232.1L458.7 224.1L458.3 218.1L458.7 212.1Z"/>
<path fill="rgb(255,32,0)" d="M184.2 208.1L232.3 208.1L223.1 212.2L217.1 212.9L207.1 213.1L191.1 211.7L186.1 210.1ZM242.1 208.1L292.9 208.1L287.2 210.4L271.2 211.9L251.8 210.1ZM352.2 208.1L425 208.1L425 216.1L423.4 222L420.5 224.1L405.4 228.3L395.4 230.5L391.4 230.8L383.4 227.9L373.3 225.3L371.3 224.1L367.3 219.6L357.3 215.5L355.3 213.4ZM458.8 208.1L500.1 208.1L500.3 212.1L502.1 218.1L503.2 224.1L506.8 234.1L507.5 242.2L509.9 248.2L512.3 252.2L515.5 255.5L521.6 258.8L525.6 259.6L529.6 258.1L533.6 255.2L549.6 239.1L559.4 232.1L559.3 230.1L555.6 218.1L552.7 212.1L552.5 208.1L592.6 208.1L592.7 216.1L591.7 220.1L589.9 224.1L591.4 226.1L599.7 229.6L613.7 233.1L629.7 238.5L629.7 324.3L510.1 324.3L509.7 306.3L503.5 280.1L501.5 276.3L499.5 274.2L489.5 269.6L481.5 265L477.5 262.1L474.4 258.2L468.4 242.2L466.6 232.1L461.1 222.1L460 218.1L460.3 212.1Z"/>
<path fill="rgb(255,11,0)" d="M186.4 208.1L225.9 208.1L223.7 210.1L218.5 212.1L207.1 212.3L200.9 212.1L189.9 210.1ZM249.5 208.1L289.4 208.1L283.2 209.7L271.2 210.6L263.8 210.1ZM354.9 208.1L423.5 208.1L423.4 216.1L421.4 219.8L413.6 224.1L406.6 226.1L391.4 227.9L373.9 224.1L371.1 220.1L368.9 218.1L358.6 214.1L356.7 212.1ZM460.5 208.1L496.4 208.1L498 224.1L500.1 234.1L500.3 242.2L504.3 258.2L503.3 260.2L501.5 261.8L499.5 262.9L495.5 264L491.5 263.4L482.1 258.2L479.5 255.3L475.5 249L472.6 242.2L471.4 232.1L469.5 226.1L467.5 222.5L463.5 217.7L463 216.1L463.4 212.1ZM557 208.1L585.6 208.1L585.3 216.1L584 218.1L581.6 220.1L577.6 221.5L573.6 221.5L567.6 220.3L563.6 218.2L558.9 214.1L557.4 212.1ZM629.7 245.5L629.7 324.3L518.3 324.3L518.3 308.3L515.4 290.2L515.7 274.2L516.9 272.2L519.5 270.1L529.6 266.3L532.8 264.2L539.3 256.2L549.6 247.9L556.1 240.2L561.6 237.4L579.6 233L591.6 235L613.7 237.6L620.9 240.2Z"/>
</g>
<rect x="48.9" y="208.1" width="113.8" height="116.2" fill="#fff" fill-opacity="0.4"/>
<rect x="534.7" y="207.1" width="96.2" height="117.2" fill="#fff" fill-opacity="0.36"/>
<path d="M629.7 208.1h5.0M629.7 224.7h3.0M629.7 241.3h5.0M629.7 257.9h3.0M629.7 274.5h5.0M629.7 291.1h3.0M629.7 307.7h5.0M629.7 324.3h3.0" stroke="#aaa" stroke-width="0.9" fill="none"/>
<path d="M48.9 208.1V324.3H629.7" fill="none" stroke="#111" stroke-width="1.3"/>
<path d="M48.9 208.1H534.7" fill="none" stroke="#444" stroke-width="1.2"/>
<path d="M534.7 208.1H629.7V324.3" fill="none" stroke="#8a8a8a" stroke-width="1.2"/>
<text x="38.0" y="212.5" text-anchor="end" class="tr">0</text>
<text x="38.0" y="245.7" text-anchor="end" class="tr">10</text>
<text x="38.0" y="278.9" text-anchor="end" class="tr">20</text>
<text x="38.0" y="312.1" text-anchor="end" class="tr">30</text>
<text x="48.9" y="345.6" text-anchor="middle" class="tr">0</text>
<text x="100.1" y="345.6" text-anchor="middle" class="tr">15</text>
<text x="151.4" y="345.6" text-anchor="middle" class="tr">30</text>
<text x="202.6" y="345.6" text-anchor="middle" class="tr">45</text>
<text x="253.9" y="345.6" text-anchor="middle" class="tr">60</text>
<text x="305.1" y="345.6" text-anchor="middle" class="tr">75</text>
<text x="356.4" y="345.6" text-anchor="middle" class="tr">90</text>
<text x="407.6" y="345.6" text-anchor="middle" class="tr">105</text>
<text x="458.9" y="345.6" text-anchor="middle" class="tr">120</text>
<text x="510.1" y="345.6" text-anchor="middle" class="tr">135</text>
<text x="561.4" y="345.6" text-anchor="middle" class="tr">150</text>
<text x="612.6" y="345.6" text-anchor="middle" class="tr">165</text>
<path d="M48.9 208.1h-5.6M48.9 224.7h-2.8M48.9 241.3h-5.6M48.9 257.9h-2.8M48.9 274.5h-5.6M48.9 291.1h-2.8M48.9 307.7h-5.6M48.9 324.3h-2.8M48.9 324.3v5.2M48.9 208.1v-5.2M74.5 324.3v2.8M74.5 208.1v-2.8M100.1 324.3v5.2M100.1 208.1v-5.2M125.8 324.3v2.8M125.8 208.1v-2.8M151.4 324.3v5.2M151.4 208.1v-5.2M177.0 324.3v2.8M177.0 208.1v-2.8M202.6 324.3v5.2M202.6 208.1v-5.2M228.3 324.3v2.8M228.3 208.1v-2.8M253.9 324.3v5.2M253.9 208.1v-5.2M279.5 324.3v2.8M279.5 208.1v-2.8M305.1 324.3v5.2M305.1 208.1v-5.2M330.8 324.3v2.8M330.8 208.1v-2.8M356.4 324.3v5.2M356.4 208.1v-5.2M382.0 324.3v2.8M382.0 208.1v-2.8M407.6 324.3v5.2M407.6 208.1v-5.2M433.3 324.3v2.8M433.3 208.1v-2.8M458.9 324.3v5.2M458.9 208.1v-5.2M484.5 324.3v2.8M484.5 208.1v-2.8M510.1 324.3v5.2M510.1 208.1v-5.2M535.7 324.3v2.8M561.4 324.3v5.2M587.0 324.3v2.8M612.6 324.3v5.2" stroke="#111" stroke-width="1" fill="none"/>
<path d="M535.7 208.1v-2.8M561.4 208.1v-5.2M587.0 208.1v-2.8M612.6 208.1v-5.2" stroke="#777" stroke-width="1" fill="none"/>
<text transform="translate(12.6,269) rotate(-90)" text-anchor="middle" class="lab" font-size="12.5" textLength="62.4" lengthAdjust="spacingAndGlyphs">Depth (m)</text>
<text x="335.5" y="358.7" text-anchor="middle" class="lab" font-size="12.5" textLength="81" lengthAdjust="spacingAndGlyphs">Distance (m)</text>
<text x="1.6" y="199.3" class="pl" font-size="18.3">b)</text>
<text x="394.4" y="231" text-anchor="middle" fill="#fff" font-size="22.5">I</text>
<text x="225.4" y="284.8" text-anchor="middle" fill="#fff" font-size="22.5" letter-spacing="1.2">II</text>
<text x="449.3" y="318.7" text-anchor="middle" fill="#fff" font-size="22.5">IV</text>
<defs><linearGradient id="jet" x1="0" x2="1" y1="0" y2="0"><stop offset="0" stop-color="#0000ff"/><stop offset="0.1" stop-color="#0030ff"/><stop offset="0.26" stop-color="#00ffff"/><stop offset="0.5" stop-color="#00ff00"/><stop offset="0.76" stop-color="#ffff00"/><stop offset="0.88" stop-color="#ff8000"/><stop offset="1" stop-color="#ff0000"/></linearGradient></defs>
<rect x="247.2" y="374.8" width="153.2" height="15.4" fill="url(#jet)" stroke="#111" stroke-width="1.1"/>
<path d="M247.6 390.2v2.2M286.2 390.2v2.2M325.4 390.2v2.2M363.2 390.2v2.2M400 390.2v2.2" stroke="#111" stroke-width="1" fill="none"/>
<text x="248.3" y="399.7" text-anchor="middle" font-weight="bold" font-size="9.4" fill="#111">1.5</text>
<text x="286.2" y="399.7" text-anchor="middle" font-weight="bold" font-size="9.4" fill="#111">5</text>
<text x="325.5" y="399.7" text-anchor="middle" font-weight="bold" font-size="9.4" fill="#111">7.5</text>
<text x="363.2" y="399.7" text-anchor="middle" font-weight="bold" font-size="9.4" fill="#111">12</text>
<text x="399.8" y="399.7" text-anchor="middle" font-weight="bold" font-size="9.4" fill="#111">20</text>
<text x="328.4" y="417.2" text-anchor="middle" font-family="Liberation Serif,serif" font-size="16.8" fill="#222">ρ(Ω<tspan font-size="11.5" font-weight="bold" font-family="Liberation Sans,sans-serif">m</tspan>)</text>
</g>
<g id="pc">
<clipPath id="cc"><rect x="52.5" y="428.6" width="581.5" height="116.0"/></clipPath>
<g clip-path="url(#cc)">
<rect x="52.5" y="428.6" width="581.5" height="116.0" fill="#d80000"/>
<path d="M52.5 463.3C58.6 463.4 98.5 464.1 110 464.3C121.5 464.5 154.1 465.1 160 465.2C165.9 465.3 160.7 464.7 165 464.8C169.3 464.9 192.6 465.8 200 466C207.4 466.2 225.2 466.5 234.8 466.5C244.4 466.5 279.1 466.4 290 466.2C300.9 466 326.9 465.2 337 465C347.1 464.8 375.4 464 385 463.9C394.6 463.8 419.7 463.7 427 463.9C434.3 464.1 447.1 466.1 453.7 466.2C460.3 466.3 481.2 464.9 489.3 464.6C497.4 464.3 519.9 463.3 529.6 463.2C539.3 463.1 568.9 463.3 580 463.3C591.1 463.3 628.2 463.3 634 463.3L634.0 544.6L52.5 544.6Z" fill="#ff9600"/>
<path d="M52.5 469.2C58.6 469.3 98.5 470.3 110 470.6C121.5 470.9 154.1 471.7 160 471.9C165.9 472.1 160.6 472.2 165 472.6C169.4 473 194.2 475.2 201.6 475.7C209 476.2 225.4 477 234.8 476.9C244.2 476.8 279.8 475.4 290 475C300.2 474.6 323.7 473.6 330 473.3C336.3 473 343.1 472.3 349 472.1C354.9 471.9 377.1 471.1 385 471C392.9 470.9 415.7 470.8 423 471C430.3 471.2 449.7 473.1 453.7 473.3C457.7 473.5 457 473.7 460.8 473.3C464.6 472.9 482 470.3 489.3 469.8C496.6 469.3 519.9 468.9 529.6 468.8C539.3 468.7 568.9 469.2 580 469.3C591.1 469.4 628.2 469.3 634 469.3L634.0 544.6L52.5 544.6Z" fill="#00ffff"/>
<path d="M52.5 472.7C58.6 472.8 98.5 473.7 110 474C121.5 474.3 154.1 475 160 475.3C165.9 475.6 163.3 476.5 165 476.9C166.7 477.3 173.6 477.7 175.5 478.8C177.4 479.9 180.7 485.7 182.7 487.5C184.7 489.3 192.2 494.6 194.5 495.8C196.8 497 199.7 498.4 204 498.9C208.3 499.4 227.5 500.4 234.8 500.6C242.1 500.8 267.6 500.8 272.7 500.6C277.8 500.4 280.4 499.1 282.2 498.7C284 498.3 285.9 497.4 290 497C294.1 496.6 316.1 497.4 320.8 495.4C325.5 493.4 330.6 480.1 333.9 478.1C337.2 476.1 346.2 477.2 351.6 476.9C357 476.6 377.2 475.8 384.8 475.7C392.4 475.6 416.4 475.4 422.7 475.7C429 476 440.1 477.8 444.2 478.1C448.3 478.4 456 479.2 460.8 478.8C465.6 478.4 482 474.7 489.3 474C496.6 473.3 519.9 472.3 529.6 472.1C539.3 471.9 568.9 472.1 580 472.1C591.1 472.1 628.2 472.1 634 472.1L634.0 544.6L52.5 544.6Z" fill="#0058ff"/>
<path d="M52.5 477.5C56.5 477.6 82.7 478.1 90 478.2C97.3 478.3 117.2 477.8 121.3 478.8C125.4 479.8 126.4 484.7 128 487.3C129.6 489.9 133.7 500.3 136 503.3C138.3 506.3 146.2 513.2 149.3 515.3C152.4 517.4 162 521.9 165.3 523.3C168.6 524.7 177.6 527.2 180 528.1C182.4 529 185.3 530.6 187.4 531.4C189.5 532.2 193.9 535.3 199.3 535.8C204.7 536.3 233.4 536.6 238.3 535.8C243.2 535 242.7 530 245.4 528.6C248.1 527.2 259.3 523.6 263.2 522.4C267.1 521.2 279.3 518 282.2 517.2C285.1 516.4 286.6 515.4 290 514.8C293.4 514.2 308.6 512.4 313.7 511.3C318.8 510.2 332.3 505.2 337.4 504.1C342.5 503 356 501.1 361.1 500.6C366.2 500.1 379.2 499.9 384.8 499.4C390.4 498.9 409.1 496.7 413.3 495.9C417.5 495.1 421.4 492.3 423.9 492.3C426.4 492.3 433.8 495.3 437 495.9C440.2 496.5 448.6 497.7 453.7 497.7C458.8 497.7 479.9 496.9 484.5 495.9C489.1 494.9 493.6 490.5 496.4 488.7C499.2 486.9 507.1 480.4 510.6 479.3C514.1 478.2 522.2 478.2 529.6 478.1C537 478 568.9 478 580 478C591.1 478 628.2 478 634 478L634.0 544.6L52.5 544.6Z" fill="#3cf532"/>
<path d="M288 527.9C287 526.5 293.6 525.1 297 524.3C300.4 523.5 308.3 522.8 313.7 522C319.1 521.2 331.1 520 337.4 518.4C343.7 516.8 354.8 511.6 361.1 510C367.4 508.4 378.5 507.2 384.8 506.5C391.1 505.8 403.4 505.3 408.5 504.9C413.6 504.5 418.9 503.4 422.7 503.4C426.5 503.4 432.9 504.4 437 504.9C441.1 505.4 448.3 506.5 453.7 507.2C459.1 507.9 473 509.6 477.4 510.2C481.8 510.8 486.4 511.4 486.4 512C486.4 512.6 481.8 513.7 477.4 514.8C473 515.9 460 518.6 453.7 520C447.4 521.4 437.6 523.7 430 525.5C422.4 527.3 404.3 532.3 396.7 533.8C389.1 535.3 380.9 536.1 373 536.6C365.1 537.1 345.3 537.3 337.4 537.3C329.5 537.3 318.1 537.2 313.7 536.9C309.3 536.6 307.6 536.2 304.2 535C300.8 533.8 289 529.3 288 527.9Z" fill="#fff500"/>
<mask id="lm" maskUnits="userSpaceOnUse" x="0" y="400" width="675" height="160"><rect x="0" y="400" width="675" height="160" fill="#fff"/><rect transform="translate(343.0,465.7) rotate(0)" x="-8.5" y="-3.6" width="17.0" height="7.2" fill="#000"/><rect transform="translate(343.0,472.2) rotate(0)" x="-8.5" y="-3.6" width="17.0" height="7.2" fill="#000"/><rect transform="translate(343.8,478.2) rotate(0)" x="-8.5" y="-3.6" width="17.0" height="7.2" fill="#000"/><rect transform="translate(351.2,503.5) rotate(-10)" x="-11.0" y="-3.6" width="22.0" height="7.2" fill="#000"/><rect transform="translate(306.8,523.3) rotate(-9)" x="-11.0" y="-3.6" width="22.0" height="7.2" fill="#000"/><rect transform="translate(385.0,535.1) rotate(-3)" x="-11.0" y="-3.6" width="22.0" height="7.2" fill="#000"/><rect transform="translate(71.0,472.8) rotate(0)" x="-8.5" y="-3.6" width="17.0" height="7.2" fill="#000"/><rect transform="translate(91.0,478.6) rotate(0)" x="-11.0" y="-3.6" width="22.0" height="7.2" fill="#000"/><rect transform="translate(54.5,463.2) rotate(0)" x="-8.5" y="-3.6" width="17.0" height="7.2" fill="#000"/><rect transform="translate(54.5,469.1) rotate(0)" x="-8.5" y="-3.6" width="17.0" height="7.2" fill="#000"/></mask>
<g mask="url(#lm)" fill="none" stroke="#111" stroke-width="0.8">
<path d="M288 527.9C287 526.5 293.6 525.1 297 524.3C300.4 523.5 308.3 522.8 313.7 522C319.1 521.2 331.1 520 337.4 518.4C343.7 516.8 354.8 511.6 361.1 510C367.4 508.4 378.5 507.2 384.8 506.5C391.1 505.8 403.4 505.3 408.5 504.9C413.6 504.5 418.9 503.4 422.7 503.4C426.5 503.4 432.9 504.4 437 504.9C441.1 505.4 448.3 506.5 453.7 507.2C459.1 507.9 473 509.6 477.4 510.2C481.8 510.8 486.4 511.4 486.4 512C486.4 512.6 481.8 513.7 477.4 514.8C473 515.9 460 518.6 453.7 520C447.4 521.4 437.6 523.7 430 525.5C422.4 527.3 404.3 532.3 396.7 533.8C389.1 535.3 380.9 536.1 373 536.6C365.1 537.1 345.3 537.3 337.4 537.3C329.5 537.3 318.1 537.2 313.7 536.9C309.3 536.6 307.6 536.2 304.2 535C300.8 533.8 289 529.3 288 527.9Z"/>
<path d="M52.5 463.3C58.6 463.4 98.5 464.1 110 464.3C121.5 464.5 154.1 465.1 160 465.2C165.9 465.3 160.7 464.7 165 464.8C169.3 464.9 192.6 465.8 200 466C207.4 466.2 225.2 466.5 234.8 466.5C244.4 466.5 279.1 466.4 290 466.2C300.9 466 326.9 465.2 337 465C347.1 464.8 375.4 464 385 463.9C394.6 463.8 419.7 463.7 427 463.9C434.3 464.1 447.1 466.1 453.7 466.2C460.3 466.3 481.2 464.9 489.3 464.6C497.4 464.3 519.9 463.3 529.6 463.2C539.3 463.1 568.9 463.3 580 463.3C591.1 463.3 628.2 463.3 634 463.3"/>
<path d="M52.5 469.2C58.6 469.3 98.5 470.3 110 470.6C121.5 470.9 154.1 471.7 160 471.9C165.9 472.1 160.6 472.2 165 472.6C169.4 473 194.2 475.2 201.6 475.7C209 476.2 225.4 477 234.8 476.9C244.2 476.8 279.8 475.4 290 475C300.2 474.6 323.7 473.6 330 473.3C336.3 473 343.1 472.3 349 472.1C354.9 471.9 377.1 471.1 385 471C392.9 470.9 415.7 470.8 423 471C430.3 471.2 449.7 473.1 453.7 473.3C457.7 473.5 457 473.7 460.8 473.3C464.6 472.9 482 470.3 489.3 469.8C496.6 469.3 519.9 468.9 529.6 468.8C539.3 468.7 568.9 469.2 580 469.3C591.1 469.4 628.2 469.3 634 469.3"/>
<path d="M52.5 472.7C58.6 472.8 98.5 473.7 110 474C121.5 474.3 154.1 475 160 475.3C165.9 475.6 163.3 476.5 165 476.9C166.7 477.3 173.6 477.7 175.5 478.8C177.4 479.9 180.7 485.7 182.7 487.5C184.7 489.3 192.2 494.6 194.5 495.8C196.8 497 199.7 498.4 204 498.9C208.3 499.4 227.5 500.4 234.8 500.6C242.1 500.8 267.6 500.8 272.7 500.6C277.8 500.4 280.4 499.1 282.2 498.7C284 498.3 285.9 497.4 290 497C294.1 496.6 316.1 497.4 320.8 495.4C325.5 493.4 330.6 480.1 333.9 478.1C337.2 476.1 346.2 477.2 351.6 476.9C357 476.6 377.2 475.8 384.8 475.7C392.4 475.6 416.4 475.4 422.7 475.7C429 476 440.1 477.8 444.2 478.1C448.3 478.4 456 479.2 460.8 478.8C465.6 478.4 482 474.7 489.3 474C496.6 473.3 519.9 472.3 529.6 472.1C539.3 471.9 568.9 472.1 580 472.1C591.1 472.1 628.2 472.1 634 472.1"/>
<path d="M52.5 477.5C56.5 477.6 82.7 478.1 90 478.2C97.3 478.3 117.2 477.8 121.3 478.8C125.4 479.8 126.4 484.7 128 487.3C129.6 489.9 133.7 500.3 136 503.3C138.3 506.3 146.2 513.2 149.3 515.3C152.4 517.4 162 521.9 165.3 523.3C168.6 524.7 177.6 527.2 180 528.1C182.4 529 185.3 530.6 187.4 531.4C189.5 532.2 193.9 535.3 199.3 535.8C204.7 536.3 233.4 536.6 238.3 535.8C243.2 535 242.7 530 245.4 528.6C248.1 527.2 259.3 523.6 263.2 522.4C267.1 521.2 279.3 518 282.2 517.2C285.1 516.4 286.6 515.4 290 514.8C293.4 514.2 308.6 512.4 313.7 511.3C318.8 510.2 332.3 505.2 337.4 504.1C342.5 503 356 501.1 361.1 500.6C366.2 500.1 379.2 499.9 384.8 499.4C390.4 498.9 409.1 496.7 413.3 495.9C417.5 495.1 421.4 492.3 423.9 492.3C426.4 492.3 433.8 495.3 437 495.9C440.2 496.5 448.6 497.7 453.7 497.7C458.8 497.7 479.9 496.9 484.5 495.9C489.1 494.9 493.6 490.5 496.4 488.7C499.2 486.9 507.1 480.4 510.6 479.3C514.1 478.2 522.2 478.2 529.6 478.1C537 478 568.9 478 580 478C591.1 478 628.2 478 634 478"/>
</g>
<text transform="translate(343.0,468.9) rotate(0)" text-anchor="middle" font-size="9.3" fill="#111">400</text>
<text transform="translate(343.0,475.4) rotate(0)" text-anchor="middle" font-size="9.3" fill="#111">700</text>
<text transform="translate(343.8,481.4) rotate(0)" text-anchor="middle" font-size="9.3" fill="#111">900</text>
<text transform="translate(351.2,506.8) rotate(-10)" text-anchor="middle" font-size="9.3" fill="#111">1200</text>
<text transform="translate(306.8,526.6) rotate(-9)" text-anchor="middle" font-size="9.3" fill="#111">1500</text>
<text transform="translate(385.0,538.4) rotate(-3)" text-anchor="middle" font-size="9.3" fill="#111">1500</text>
<text transform="translate(71.0,476.0) rotate(0)" text-anchor="middle" font-size="9.3" fill="#111">900</text>
<text transform="translate(91.0,481.8) rotate(0)" text-anchor="middle" font-size="9.3" fill="#111">1200</text>
<text transform="translate(54.5,466.4) rotate(0)" text-anchor="middle" font-size="9.3" fill="#111">400</text>
<text transform="translate(54.5,472.3) rotate(0)" text-anchor="middle" font-size="9.3" fill="#111">700</text>
<path fill-rule="evenodd" fill="#fff" fill-opacity="0.63" d="M51.5 427.6H635.0V545.6H51.5Z M190 428.6C187.9 429.2 179.4 430.6 176 432.5C172.6 434.4 169.2 438.1 167.5 441C165.8 443.9 165.4 447.6 165 452C164.6 456.4 165 464.1 165 470C165 475.9 164.3 486.1 165 491C165.7 495.9 167.8 498.7 169.6 503C171.4 507.3 174 515.2 176.7 519.5C179.4 523.8 182.9 528.5 187.4 531.4C191.9 534.2 199.3 536.8 206.4 538.5C213.5 540.2 227.7 542.2 234.8 543C241.9 543.8 238 543.8 253.8 544C269.6 544.2 313.6 544.3 340 544.2C366.4 544.1 412.9 543.6 430 543.3C447.1 543 446.6 542.8 453.7 542.1C460.8 541.4 472.6 539.7 477.4 538.5C482.2 537.3 483.6 535.4 485.7 533.8C487.8 532.2 488.9 529.1 491.6 527.9C494.3 526.7 499.6 526.4 503.5 525.5C507.4 524.6 514.3 523.9 517.7 521.9C521.1 519.9 524.3 516 526 512.4C527.7 508.8 528.4 503.2 529.1 498.2C529.8 493.2 530.5 485 530.7 479.3C530.9 473.6 530.7 465.3 530.6 460C530.5 454.7 530.3 447.5 530 443.7C529.7 439.9 529.2 436.8 528.4 434.5C527.6 432.2 525.1 429.5 524.5 428.6Z"/>
<path d="M190 428.6C187.9 429.2 179.4 430.6 176 432.5C172.6 434.4 169.2 438.1 167.5 441C165.8 443.9 165.4 447.6 165 452C164.6 456.4 165 464.1 165 470C165 475.9 164.3 486.1 165 491C165.7 495.9 167.8 498.7 169.6 503C171.4 507.3 174 515.2 176.7 519.5C179.4 523.8 182.9 528.5 187.4 531.4C191.9 534.2 199.3 536.8 206.4 538.5C213.5 540.2 227.7 542.2 234.8 543C241.9 543.8 238 543.8 253.8 544C269.6 544.2 313.6 544.3 340 544.2C366.4 544.1 412.9 543.6 430 543.3C447.1 543 446.6 542.8 453.7 542.1C460.8 541.4 472.6 539.7 477.4 538.5C482.2 537.3 483.6 535.4 485.7 533.8C487.8 532.2 488.9 529.1 491.6 527.9C494.3 526.7 499.6 526.4 503.5 525.5C507.4 524.6 514.3 523.9 517.7 521.9C521.1 519.9 524.3 516 526 512.4C527.7 508.8 528.4 503.2 529.1 498.2C529.8 493.2 530.5 485 530.7 479.3C530.9 473.6 530.7 465.3 530.6 460C530.5 454.7 530.3 447.5 530 443.7C529.7 439.9 529.2 436.8 528.4 434.5C527.6 432.2 525.1 429.5 524.5 428.6" fill="none" stroke="#fff" stroke-width="1.1"/>
</g>
<path d="M634.0 428.6h5.0M634.0 445.2h3.0M634.0 461.7h5.0M634.0 478.3h3.0M634.0 494.9h5.0M634.0 511.5h3.0M634.0 528.0h5.0M634.0 544.6h3.0" stroke="#111" stroke-width="1" fill="none"/>
<rect x="52.5" y="428.6" width="581.5" height="116.0" fill="none" stroke="#111" stroke-width="1.3"/>
<text x="41.6" y="433.0" text-anchor="end" class="tr">0</text>
<text x="41.6" y="466.1" text-anchor="end" class="tr">10</text>
<text x="41.6" y="499.3" text-anchor="end" class="tr">20</text>
<text x="41.6" y="532.4" text-anchor="end" class="tr">30</text>
<text x="52.5" y="566.2" text-anchor="middle" class="tr">0</text>
<text x="103.8" y="566.2" text-anchor="middle" class="tr">15</text>
<text x="155.1" y="566.2" text-anchor="middle" class="tr">30</text>
<text x="206.4" y="566.2" text-anchor="middle" class="tr">45</text>
<text x="257.7" y="566.2" text-anchor="middle" class="tr">60</text>
<text x="309.0" y="566.2" text-anchor="middle" class="tr">75</text>
<text x="360.4" y="566.2" text-anchor="middle" class="tr">90</text>
<text x="411.7" y="566.2" text-anchor="middle" class="tr">105</text>
<text x="463.0" y="566.2" text-anchor="middle" class="tr">120</text>
<text x="514.3" y="566.2" text-anchor="middle" class="tr">135</text>
<text x="565.6" y="566.2" text-anchor="middle" class="tr">150</text>
<text x="616.9" y="566.2" text-anchor="middle" class="tr">165</text>
<path d="M52.5 428.6h-5.6M52.5 445.2h-2.8M52.5 461.7h-5.6M52.5 478.3h-2.8M52.5 494.9h-5.6M52.5 511.5h-2.8M52.5 528.0h-5.6M52.5 544.6h-2.8M52.5 544.6v5.2M52.5 428.6v-5.2M78.2 544.6v2.8M78.2 428.6v-2.8M103.8 544.6v5.2M103.8 428.6v-5.2M129.5 544.6v2.8M129.5 428.6v-2.8M155.1 544.6v5.2M155.1 428.6v-5.2M180.8 544.6v2.8M180.8 428.6v-2.8M206.4 544.6v5.2M206.4 428.6v-5.2M232.1 544.6v2.8M232.1 428.6v-2.8M257.7 544.6v5.2M257.7 428.6v-5.2M283.4 544.6v2.8M283.4 428.6v-2.8M309.0 544.6v5.2M309.0 428.6v-5.2M334.7 544.6v2.8M334.7 428.6v-2.8M360.4 544.6v5.2M360.4 428.6v-5.2M386.0 544.6v2.8M386.0 428.6v-2.8M411.7 544.6v5.2M411.7 428.6v-5.2M437.3 544.6v2.8M437.3 428.6v-2.8M463.0 544.6v5.2M463.0 428.6v-5.2M488.6 544.6v2.8M488.6 428.6v-2.8M514.3 544.6v5.2M514.3 428.6v-5.2M539.9 544.6v2.8M539.9 428.6v-2.8M565.6 544.6v5.2M565.6 428.6v-5.2M591.2 544.6v2.8M591.2 428.6v-2.8M616.9 544.6v5.2M616.9 428.6v-5.2" stroke="#111" stroke-width="1" fill="none"/>
<text transform="translate(12.6,484.5) rotate(-90)" text-anchor="middle" class="lab" font-size="12.5" textLength="62.4" lengthAdjust="spacingAndGlyphs">Depth (m)</text>
<text x="329.6" y="579.8" text-anchor="middle" class="lab" font-size="12.5" textLength="81" lengthAdjust="spacingAndGlyphs">Distance (m)</text>
<text x="3" y="414.3" class="pl" font-size="18.3">c)</text>
<text x="404.7" y="452" text-anchor="middle" fill="#fff" font-size="22.5">I</text>
<text x="283.6" y="496.3" text-anchor="middle" fill="#fff" font-size="22.5" letter-spacing="1.2">III</text>
<text x="227.6" y="527.9" text-anchor="middle" fill="#fff" font-size="22.5" letter-spacing="1.2">II</text>
<text x="422.9" y="523.1" text-anchor="middle" fill="#111" font-size="22.5">IV</text>
<rect x="155.4" y="602.7" width="61.8" height="14.6" fill="#d80000"/>
<rect x="216.9" y="602.7" width="61.8" height="14.6" fill="#ff9600"/>
<rect x="278.4" y="602.7" width="41.3" height="14.6" fill="#00ffff"/>
<rect x="319.4" y="602.7" width="61.8" height="14.6" fill="#0058ff"/>
<rect x="380.8" y="602.7" width="61.8" height="14.6" fill="#3cf532"/>
<rect x="442.3" y="602.7" width="61.8" height="14.6" fill="#fff500"/>
<rect x="155.4" y="602.7" width="348.4" height="14.6" fill="none" stroke="#111" stroke-width="1.1"/>
<text x="175.9" y="638.4" text-anchor="middle" font-size="11.6" fill="#111">200</text>
<text x="216.9" y="638.4" text-anchor="middle" font-size="11.6" fill="#111">400</text>
<text x="257.9" y="638.4" text-anchor="middle" font-size="11.6" fill="#111">600</text>
<text x="298.9" y="638.4" text-anchor="middle" font-size="11.6" fill="#111">800</text>
<text x="339.8" y="638.4" text-anchor="middle" font-size="11.6" fill="#111">1000</text>
<text x="380.8" y="638.4" text-anchor="middle" font-size="11.6" fill="#111">1200</text>
<text x="421.8" y="638.4" text-anchor="middle" font-size="11.6" fill="#111">1400</text>
<text x="462.8" y="638.4" text-anchor="middle" font-size="11.6" fill="#111">1600</text>
<text x="503.8" y="638.4" text-anchor="middle" font-size="11.6" fill="#111">1800</text>
<path d="M155.4 617.3v2.5M175.9 617.3v4.8M196.4 617.3v2.5M216.9 617.3v4.8M237.4 617.3v2.5M257.9 617.3v4.8M278.4 617.3v2.5M298.9 617.3v4.8M319.4 617.3v2.5M339.8 617.3v4.8M360.3 617.3v2.5M380.8 617.3v4.8M401.3 617.3v2.5M421.8 617.3v4.8M442.3 617.3v2.5M462.8 617.3v4.8M483.3 617.3v2.5M503.8 617.3v4.8" stroke="#111" stroke-width="1" fill="none"/>
<text x="329.8" y="663.6" text-anchor="middle" font-size="13.4" fill="#111">Vp (m/s)</text>
</g>
<g id="pd">
<g transform="translate(45.00,694.70) scale(0.9909,0.9767) translate(-52.50,-428.60)">
<g clip-path="url(#cc)">
<rect x="52.5" y="428.6" width="581.5" height="116.0" fill="#fce9e9"/>
<path d="M52.5 463.3C58.6 463.4 98.5 464.1 110 464.3C121.5 464.5 154.1 465.1 160 465.2C165.9 465.3 160.7 464.7 165 464.8C169.3 464.9 192.6 465.8 200 466C207.4 466.2 225.2 466.5 234.8 466.5C244.4 466.5 279.1 466.4 290 466.2C300.9 466 326.9 465.2 337 465C347.1 464.8 375.4 464 385 463.9C394.6 463.8 419.7 463.7 427 463.9C434.3 464.1 447.1 466.1 453.7 466.2C460.3 466.3 481.2 464.9 489.3 464.6C497.4 464.3 519.9 463.3 529.6 463.2C539.3 463.1 568.9 463.3 580 463.3C591.1 463.3 628.2 463.3 634 463.3L634.0 544.6L52.5 544.6Z" fill="#fff6e9"/>
<path d="M52.5 469.2C58.6 469.3 98.5 470.3 110 470.6C121.5 470.9 154.1 471.7 160 471.9C165.9 472.1 160.6 472.2 165 472.6C169.4 473 194.2 475.2 201.6 475.7C209 476.2 225.4 477 234.8 476.9C244.2 476.8 279.8 475.4 290 475C300.2 474.6 323.7 473.6 330 473.3C336.3 473 343.1 472.3 349 472.1C354.9 471.9 377.1 471.1 385 471C392.9 470.9 415.7 470.8 423 471C430.3 471.2 449.7 473.1 453.7 473.3C457.7 473.5 457 473.7 460.8 473.3C464.6 472.9 482 470.3 489.3 469.8C496.6 469.3 519.9 468.9 529.6 468.8C539.3 468.7 568.9 469.2 580 469.3C591.1 469.4 628.2 469.3 634 469.3L634.0 544.6L52.5 544.6Z" fill="#e9ffff"/>
<path d="M52.5 472.7C58.6 472.8 98.5 473.7 110 474C121.5 474.3 154.1 475 160 475.3C165.9 475.6 163.3 476.5 165 476.9C166.7 477.3 173.6 477.7 175.5 478.8C177.4 479.9 180.7 485.7 182.7 487.5C184.7 489.3 192.2 494.6 194.5 495.8C196.8 497 199.7 498.4 204 498.9C208.3 499.4 227.5 500.4 234.8 500.6C242.1 500.8 267.6 500.8 272.7 500.6C277.8 500.4 280.4 499.1 282.2 498.7C284 498.3 285.9 497.4 290 497C294.1 496.6 316.1 497.4 320.8 495.4C325.5 493.4 330.6 480.1 333.9 478.1C337.2 476.1 346.2 477.2 351.6 476.9C357 476.6 377.2 475.8 384.8 475.7C392.4 475.6 416.4 475.4 422.7 475.7C429 476 440.1 477.8 444.2 478.1C448.3 478.4 456 479.2 460.8 478.8C465.6 478.4 482 474.7 489.3 474C496.6 473.3 519.9 472.3 529.6 472.1C539.3 471.9 568.9 472.1 580 472.1C591.1 472.1 628.2 472.1 634 472.1L634.0 544.6L52.5 544.6Z" fill="#e9f1ff"/>
<path d="M52.5 477.5C56.5 477.6 82.7 478.1 90 478.2C97.3 478.3 117.2 477.8 121.3 478.8C125.4 479.8 126.4 484.7 128 487.3C129.6 489.9 133.7 500.3 136 503.3C138.3 506.3 146.2 513.2 149.3 515.3C152.4 517.4 162 521.9 165.3 523.3C168.6 524.7 177.6 527.2 180 528.1C182.4 529 185.3 530.6 187.4 531.4C189.5 532.2 193.9 535.3 199.3 535.8C204.7 536.3 233.4 536.6 238.3 535.8C243.2 535 242.7 530 245.4 528.6C248.1 527.2 259.3 523.6 263.2 522.4C267.1 521.2 279.3 518 282.2 517.2C285.1 516.4 286.6 515.4 290 514.8C293.4 514.2 308.6 512.4 313.7 511.3C318.8 510.2 332.3 505.2 337.4 504.1C342.5 503 356 501.1 361.1 500.6C366.2 500.1 379.2 499.9 384.8 499.4C390.4 498.9 409.1 496.7 413.3 495.9C417.5 495.1 421.4 492.3 423.9 492.3C426.4 492.3 433.8 495.3 437 495.9C440.2 496.5 448.6 497.7 453.7 497.7C458.8 497.7 479.9 496.9 484.5 495.9C489.1 494.9 493.6 490.5 496.4 488.7C499.2 486.9 507.1 480.4 510.6 479.3C514.1 478.2 522.2 478.2 529.6 478.1C537 478 568.9 478 580 478C591.1 478 628.2 478 634 478L634.0 544.6L52.5 544.6Z" fill="#eefeee"/>
<path d="M52.5 472.7C58.6 472.8 98.5 473.7 110 474C121.5 474.3 154.1 475 160 475.3C165.9 475.6 163.3 476.5 165 476.9C166.7 477.3 173.6 477.7 175.5 478.8C177.4 479.9 180.7 485.7 182.7 487.5C184.7 489.3 192.2 494.6 194.5 495.8C196.8 497 199.7 498.4 204 498.9C208.3 499.4 227.5 500.4 234.8 500.6C242.1 500.8 267.6 500.8 272.7 500.6C277.8 500.4 280.4 499.1 282.2 498.7C284 498.3 285.9 497.4 290 497C294.1 496.6 316.1 497.4 320.8 495.4C325.5 493.4 330.6 480.1 333.9 478.1C337.2 476.1 346.2 477.2 351.6 476.9C357 476.6 377.2 475.8 384.8 475.7C392.4 475.6 416.4 475.4 422.7 475.7C429 476 440.1 477.8 444.2 478.1C448.3 478.4 456 479.2 460.8 478.8C465.6 478.4 482 474.7 489.3 474C496.6 473.3 519.9 472.3 529.6 472.1C539.3 471.9 568.9 472.1 580 472.1C591.1 472.1 628.2 472.1 634 472.1" fill="none" stroke="#dcdcdc" stroke-width="0.7"/>
<path d="M52.5 477.5C56.5 477.6 82.7 478.1 90 478.2C97.3 478.3 117.2 477.8 121.3 478.8C125.4 479.8 126.4 484.7 128 487.3C129.6 489.9 133.7 500.3 136 503.3C138.3 506.3 146.2 513.2 149.3 515.3C152.4 517.4 162 521.9 165.3 523.3C168.6 524.7 177.6 527.2 180 528.1C182.4 529 185.3 530.6 187.4 531.4C189.5 532.2 193.9 535.3 199.3 535.8C204.7 536.3 233.4 536.6 238.3 535.8C243.2 535 242.7 530 245.4 528.6C248.1 527.2 259.3 523.6 263.2 522.4C267.1 521.2 279.3 518 282.2 517.2C285.1 516.4 286.6 515.4 290 514.8C293.4 514.2 308.6 512.4 313.7 511.3C318.8 510.2 332.3 505.2 337.4 504.1C342.5 503 356 501.1 361.1 500.6C366.2 500.1 379.2 499.9 384.8 499.4C390.4 498.9 409.1 496.7 413.3 495.9C417.5 495.1 421.4 492.3 423.9 492.3C426.4 492.3 433.8 495.3 437 495.9C440.2 496.5 448.6 497.7 453.7 497.7C458.8 497.7 479.9 496.9 484.5 495.9C489.1 494.9 493.6 490.5 496.4 488.7C499.2 486.9 507.1 480.4 510.6 479.3C514.1 478.2 522.2 478.2 529.6 478.1C537 478 568.9 478 580 478C591.1 478 628.2 478 634 478" fill="none" stroke="#dcdcdc" stroke-width="0.7"/>
<text x="71.0" y="475.7" text-anchor="middle" font-size="9.3" fill="#dfdfe2">900</text>
<text x="91.0" y="481.5" text-anchor="middle" font-size="9.3" fill="#dfdfe2">1200</text>
<text x="56.5" y="466.2" text-anchor="middle" font-size="9.3" fill="#dfdfe2">400</text>
<text x="56.5" y="472.0" text-anchor="middle" font-size="9.3" fill="#dfdfe2">700</text>
<path d="M190 428.6C187.9 429.2 179.4 430.6 176 432.5C172.6 434.4 169.2 438.1 167.5 441C165.8 443.9 165.4 447.6 165 452C164.6 456.4 165 464.1 165 470C165 475.9 164.3 486.1 165 491C165.7 495.9 167.8 498.7 169.6 503C171.4 507.3 174 515.2 176.7 519.5C179.4 523.8 182.9 528.5 187.4 531.4C191.9 534.2 199.3 536.8 206.4 538.5C213.5 540.2 227.7 542.2 234.8 543C241.9 543.8 238 543.8 253.8 544C269.6 544.2 313.6 544.3 340 544.2C366.4 544.1 412.9 543.6 430 543.3C447.1 543 446.6 542.8 453.7 542.1C460.8 541.4 472.6 539.7 477.4 538.5C482.2 537.3 483.6 535.4 485.7 533.8C487.8 532.2 488.9 529.1 491.6 527.9C494.3 526.7 499.6 526.4 503.5 525.5C507.4 524.6 514.3 523.9 517.7 521.9C521.1 519.9 524.3 516 526 512.4C527.7 508.8 528.4 503.2 529.1 498.2C529.8 493.2 530.5 485 530.7 479.3C530.9 473.6 530.7 465.3 530.6 460C530.5 454.7 530.3 447.5 530 443.7C529.7 439.9 529.2 436.8 528.4 434.5C527.6 432.2 525.1 429.5 524.5 428.6Z" fill="#fbfbff" stroke="#fff" stroke-width="5"/>
</g></g>
<path d="M519 694.7C530 694.7 537 697 535.5 712C534 730 529 740 528 760C527 775 524 790 500 797C490 800 470 806 455 808L455 790L519 760Z" fill="#fdfdfd" opacity="0.85"/>
<path d="M150 694.7H160V740C160 760 165 790 185 806H134C134 790 138 770 146 758C150 750 150 720 150 694.7Z" fill="#fff" opacity="0.75"/>
<path d="M156.7 735.5C155.6 733.3 156.5 718.4 156.6 716C156.7 713.6 157.2 708.3 157.6 707C158 705.7 160.1 701.4 161 700.5C161.9 699.6 166.3 697.1 168 696.6C169.7 696.1 170 694.9 181 694.7C192 694.5 277.6 694.5 300 694.5C322.4 694.5 432.3 694.5 450 694.5C467.7 694.5 506.4 694.5 512 694.6C517.6 694.7 516.8 695.5 517.5 696C518.2 696.5 520 699 520.3 700C520.6 701 521.5 706.7 521.6 708C521.7 709.3 521.8 713.5 521.8 716C521.8 718.5 522.8 735.7 521 738C519.2 740.3 518.4 743.3 500 744C481.6 744.7 327.5 746.2 300 746C272.5 745.8 181.9 742.9 170 742C158.1 741.1 157.8 737.7 156.7 735.5Z" fill="#e25214"/>
<path d="M156.7 734.8C157.5 732.5 159.4 734.5 163.7 735C168 735.5 180.8 737.6 187.4 738.1C194 738.6 204.5 738.6 211.1 738.8C217.7 739 228.2 739.2 234.8 739.3C241.4 739.4 250.8 739.9 258.5 739.7C266.2 739.5 280.6 738.5 290 738C299.4 737.5 317.2 736.9 325.5 736.4C333.8 735.9 341.4 734.8 349 734.5C356.6 734.2 371.7 734.3 380 734.2C388.3 734.1 400.1 733.9 408.5 734C416.9 734.1 432.3 734.9 440 735C447.7 735.1 457.4 735.2 463.7 735C470 734.8 481 733.7 485 733.8C489 733.9 491.3 733.7 492 736C492.7 738.3 494.5 744.5 490 750C485.5 755.5 472.6 768.4 460 775C447.4 781.6 422.4 792.7 400 797C377.6 801.3 321 804.7 300 806C279 807.3 262.4 806.3 250 806C237.6 805.7 218.2 804.5 211.1 803.9C204 803.3 202.3 802.8 199.3 802C196.3 801.2 192.8 799.6 190 798.5C187.2 797.4 182.1 795.8 179.3 793.8C176.5 791.8 172.2 788 169.9 784.3C167.6 780.6 164.4 772.3 162.7 767.7C161 763.1 158.8 755.7 158 751.1C157.2 746.5 155.9 737.1 156.7 734.8Z" fill="#4aa0ff"/>
<path d="M209 804C206.9 803.2 227.9 802.3 234.8 800.9C241.7 799.5 251.9 796 258.5 793.8C265.1 791.6 276.4 787.5 282.2 785.5C288 783.5 295.6 781.3 300 779.6C304.4 777.9 308.5 775.4 313.7 773.6C318.9 771.8 330.8 768.2 337.4 766.5C344 764.8 354.5 762.8 361.1 761.8C367.7 760.8 378.2 760.4 384.8 759.4C391.4 758.4 401.9 756.1 408.5 754.7C415.1 753.3 426.4 750.6 432.2 749.3C438 748 445.6 746.7 450 745.5C454.4 744.3 458.8 742 463.7 740.4C468.6 738.8 480 735.8 485 733.8C490 731.8 495.6 727.9 499.3 726.2C503 724.5 508.2 722.5 511.1 721.5C514 720.5 518.3 718.4 519.8 719.3C521.3 720.2 521.3 725.2 521.6 728C521.9 730.8 521.9 735 521.8 739.2C521.7 743.4 521.3 753.2 520.6 758.2C519.9 763.2 518.7 771.1 517 774.8C515.3 778.5 511.8 782.3 508.7 784.3C505.6 786.3 497.8 788 494.5 789C491.2 790 487.3 790.4 485 791.4C482.7 792.4 480.9 794.6 478 796.1C475.1 797.6 469.3 800.6 464 802C458.7 803.4 449 805.3 440 806C431 806.7 419.6 807 400 807.2C380.4 807.4 321 807.3 300 807.2C279 807.1 262.7 807.2 250 806.8C237.3 806.4 211.1 804.8 209 804Z" fill="#8ee85a"/>
<path d="M305.4 793.8C306.2 792.4 308.9 789.9 313.7 787.9C318.5 785.9 330.3 782.7 337.4 780.7C344.5 778.7 354 776.2 361.1 774.8C368.2 773.4 377.7 772.1 384.8 771.3C391.9 770.5 401.4 770 408.5 769.6C415.6 769.2 426.5 768.7 432.2 768.9C437.9 769.1 443.3 770.1 446.4 770.8C449.5 771.5 451.5 772.5 453 773.5C454.5 774.5 456.3 776.6 456.3 777.8C456.3 779 454.5 780.7 453 781.5C451.5 782.3 449.1 782.9 446 783.3C442.9 783.7 437.8 783.6 432.2 784.3C426.6 785 415.6 786.7 408.5 787.9C401.4 789.1 391.9 791.4 384.8 792.6C377.7 793.8 368.2 795.2 361.1 796.1C354 797 343.9 798 337.4 798.5C330.9 799 322.3 799.4 318 799.2C313.7 799.1 310.4 798.3 308.5 797.5C306.6 796.7 304.6 795.2 305.4 793.8Z" fill="#fce03c"/>
<path d="M401.8 746.6L413.7 736.3L412.8 739.9L430.6 735.4L439.4 732.8L440.9 727.8L443.4 734.6L443 741.7L430.6 745.2L418.1 747.9L416 752.7Z" fill="#111" stroke="#111" stroke-width="0.8" stroke-linejoin="round"/>
<path d="M475.9 750.6C475.8 750.9 477.8 757.2 478.6 757.7C479.4 758.2 486.3 758.2 487.4 757.7C488.5 757.2 493.8 751.7 494.6 750.6C495.4 749.5 499.3 742.1 499.9 741.7C500.5 741.3 503.3 746.4 503.4 745.2C503.5 744 502.3 724.2 501.1 723.5C499.9 722.8 485.5 733.8 484.8 734.6C484.1 735.4 490.7 734.8 491 735.4C491.3 736 489.6 742.4 489.2 743.4C488.8 744.4 485.4 749.9 484.8 750.6C484.2 751.3 480.9 753.2 480.3 753.2C479.7 753.2 476 750.3 475.9 750.6Z" fill="#111" stroke="#111" stroke-width="0.8" stroke-linejoin="round"/>
<text transform="translate(232.4,712.5) rotate(0)" class="hw" stroke="#111" stroke-width="0.35" font-size="14.6" textLength="106.0" lengthAdjust="spacingAndGlyphs">Unconsolidated</text>
<text transform="translate(230.0,725.8) rotate(0)" class="hw" stroke="#111" stroke-width="0.35" font-size="14.6" textLength="111.0" lengthAdjust="spacingAndGlyphs">tephra deposits</text>
<text transform="translate(207.0,763.0) rotate(0)" class="hw" stroke="#111" stroke-width="0.35" font-size="14.6" textLength="68.0" lengthAdjust="spacingAndGlyphs">Saturated</text>
<text transform="translate(219.4,777.2) rotate(0)" class="hw" stroke="#111" stroke-width="0.35" font-size="14.6" textLength="44.0" lengthAdjust="spacingAndGlyphs">tephra</text>
<text transform="translate(358.7,745.2) rotate(-14)" class="hw" stroke="#111" stroke-width="0.35" font-size="15.5" textLength="120.0" lengthAdjust="spacingAndGlyphs">condensed water</text>
<text transform="translate(507.5,740.4) rotate(0)" class="hw" stroke="#111" stroke-width="0.35" font-size="14.6" textLength="23.7" lengthAdjust="spacingAndGlyphs">gas</text>
<text transform="translate(503.5,753.5) rotate(0)" class="hw" stroke="#111" stroke-width="0.35" font-size="14.6" textLength="40.3" lengthAdjust="spacingAndGlyphs">plume</text>
<text transform="translate(325.0,793.3) rotate(-5.2)" class="hw" stroke="#111" stroke-width="0.35" font-size="14.6" textLength="120.6" lengthAdjust="spacingAndGlyphs">gas accumulation</text>
<text transform="translate(432.2,803.7) rotate(0)" class="hw" stroke="#111" stroke-width="0.35" font-size="14.6" textLength="135.8" lengthAdjust="spacingAndGlyphs">Unsaturated tephra</text>
<rect x="41.2" y="692.7" width="582.4" height="116.8" fill="none" stroke="#777" stroke-width="1"/>
<path d="M41.2 692.7V809.5" stroke="#222" stroke-width="1.2"/>
<path d="M45.0 692.7v-1.5M45.0 809.5v1.5M70.4 692.7v-1.5M70.4 809.5v1.5M95.8 692.7v-1.5M95.8 809.5v1.5M121.3 692.7v-1.5M121.3 809.5v1.5M146.7 692.7v-1.5M146.7 809.5v1.5M172.1 692.7v-1.5M172.1 809.5v1.5M197.5 692.7v-1.5M197.5 809.5v1.5M222.9 692.7v-1.5M222.9 809.5v1.5M248.4 692.7v-1.5M248.4 809.5v1.5M273.8 692.7v-1.5M273.8 809.5v1.5M299.2 692.7v-1.5M299.2 809.5v1.5M324.6 692.7v-1.5M324.6 809.5v1.5M350.0 692.7v-1.5M350.0 809.5v1.5M375.5 692.7v-1.5M375.5 809.5v1.5M400.9 692.7v-1.5M400.9 809.5v1.5M426.3 692.7v-1.5M426.3 809.5v1.5M451.7 692.7v-1.5M451.7 809.5v1.5M477.2 692.7v-1.5M477.2 809.5v1.5M502.6 692.7v-1.5M502.6 809.5v1.5M528.0 692.7v-1.5M528.0 809.5v1.5M553.4 692.7v-1.5M553.4 809.5v1.5M578.8 692.7v-1.5M578.8 809.5v1.5M604.3 692.7v-1.5M604.3 809.5v1.5M41.2 694.7h-1.5M623.6 694.7h1.5M41.2 710.9h-1.5M623.6 710.9h1.5M41.2 727.1h-1.5M623.6 727.1h1.5M41.2 743.3h-1.5M623.6 743.3h1.5M41.2 759.4h-1.5M623.6 759.4h1.5M41.2 775.6h-1.5M623.6 775.6h1.5M41.2 791.8h-1.5M623.6 791.8h1.5M41.2 808.0h-1.5M623.6 808.0h1.5" stroke="#666" stroke-width="0.8" fill="none"/>
<text x="11.4" y="684.7" class="pl" font-size="18.3">d)</text>
</g>
</svg>
</body></html>
